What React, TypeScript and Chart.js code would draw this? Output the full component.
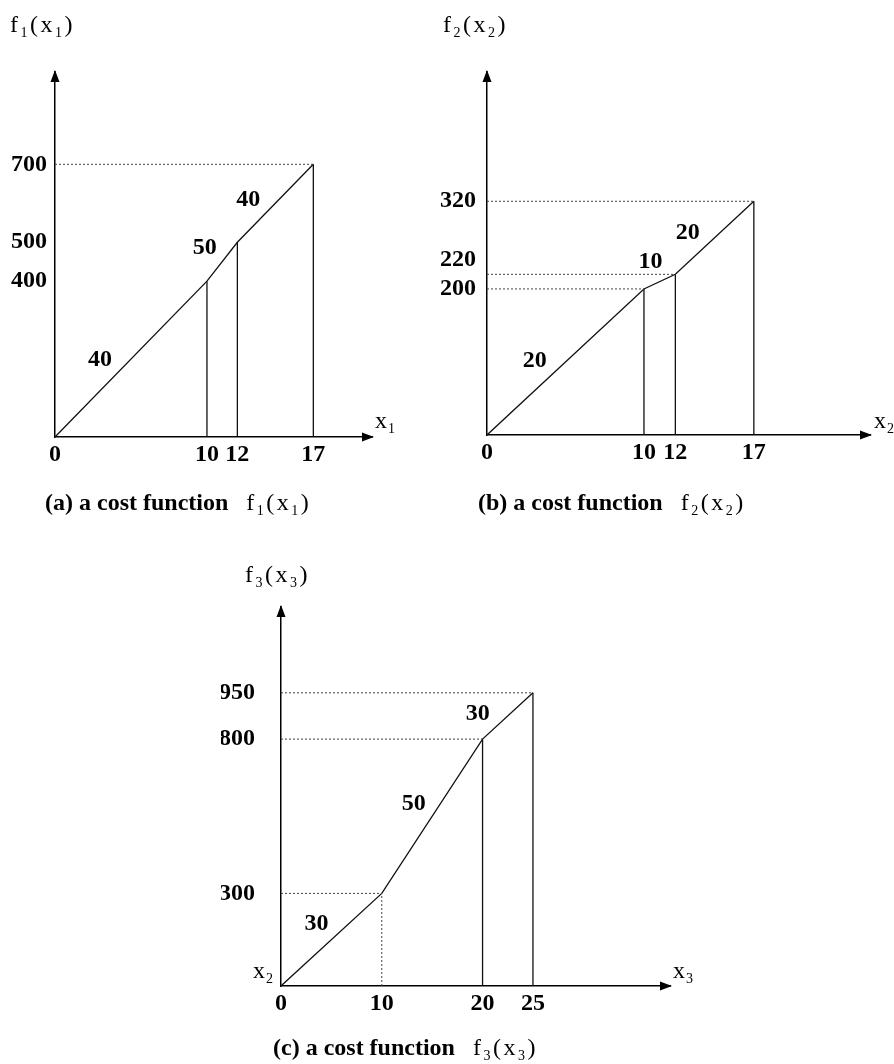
import React, { useEffect, useRef } from "react";
import { Chart, registerables } from "chart.js";

Chart.register(...registerables);

const PAGE_W = 894;
const PAGE_H = 1064;
const SERIF = '"Liberation Serif", "Times New Roman", serif';

// ---- (a) cost function f1(x1) ----
const A_X = [0, 10, 12, 17];
const A_Y = [0, 400, 500, 700];
const A_SLOPES = ["40", "50", "40"];
const A_XTICKS = [0, 10, 12, 17];
const A_YTICKS = [400, 500, 700];
const A_HGUIDES = [700];
const A_VDOTTED = [false, false, false];

// ---- (b) cost function f2(x2) ----
const B_X = [0, 10, 12, 17];
const B_Y = [0, 200, 220, 320];
const B_SLOPES = ["20", "10", "20"];
const B_XTICKS = [0, 10, 12, 17];
const B_YTICKS = [200, 220, 320];
const B_HGUIDES = [200, 220, 320];
const B_VDOTTED = [false, false, false];

// ---- (c) cost function f3(x3) ----
const C_X = [0, 10, 20, 25];
const C_Y = [0, 300, 800, 950];
const C_SLOPES = ["30", "50", "30"];
const C_XTICKS = [0, 10, 20, 25];
const C_YTICKS = [300, 800, 950];
const C_HGUIDES = [300, 800, 950];
const C_VDOTTED = [true, false, false];

type Part = { t: string; sub?: boolean; bold?: boolean };

const fName = (n: string): Part[] => [
  { t: "f" },
  { t: n, sub: true },
  { t: "(" },
  { t: "x" },
  { t: n, sub: true },
  { t: ")" },
];
const xName = (n: string): Part[] => [{ t: "x" }, { t: n, sub: true }];

function drawRich(ctx: CanvasRenderingContext2D, parts: Part[], x: number, baseline: number, size: number, spacing: number) {
  let cx = x;
  ctx.textAlign = "left";
  ctx.textBaseline = "alphabetic";
  for (const p of parts) {
    const s = p.sub ? Math.round(size * 0.58) : size;
    ctx.font = `${p.bold ? "bold " : ""}${s}px ${SERIF}`;
    ctx.fillText(p.t, cx, p.sub ? baseline + size * 0.2 : baseline);
    cx += ctx.measureText(p.t).width + spacing;
  }
  return cx;
}

type PanelDef = {
  xs: number[];
  ys: number[];
  slopes: string[];
  labelT: number[];
  xticks: number[];
  yticks: number[];
  hguides: number[];
  vdotted: boolean[];
  lift: number[];
  area: { left: number; top: number; right: number; bottom: number };
  xMax: number;
  yMax: number;
  yTickPad: number;
  yName: { n: string; x: number; y: number };
  xName: { n: string; x: number; y: number };
  extraNames: { n: string; x: number; y: number }[];
  caption: { letter: string; n: string; x: number; y: number };
};

const PANELS: PanelDef[] = [
  {
    xs: A_X, ys: A_Y, slopes: A_SLOPES, labelT: [0.4, 0.5, 0.35], xticks: A_XTICKS, yticks: A_YTICKS,
    hguides: A_HGUIDES, vdotted: A_VDOTTED, lift: [],
    area: { left: 55, top: 72, right: 372, bottom: 437 },
    xMax: 20.86, yMax: 937, yTickPad: 8,
    yName: { n: "1", x: 10, y: 32 },
    xName: { n: "1", x: 375, y: 428 },
    extraNames: [],
    caption: { letter: "a", n: "1", x: 45, y: 510 },
  },
  {
    xs: B_X, ys: B_Y, slopes: B_SLOPES, labelT: [0.4, 0.5, 0.35], xticks: B_XTICKS, yticks: B_YTICKS,
    hguides: B_HGUIDES, vdotted: B_VDOTTED, lift: [220],
    area: { left: 487, top: 72, right: 870, bottom: 435 },
    xMax: 24.4, yMax: 497, yTickPad: 11,
    yName: { n: "2", x: 443, y: 32 },
    xName: { n: "2", x: 874, y: 428 },
    extraNames: [],
    caption: { letter: "b", n: "2", x: 478, y: 510 },
  },
  {
    xs: C_X, ys: C_Y, slopes: C_SLOPES, labelT: [0.5, 0.5, 0.2], xticks: C_XTICKS, yticks: C_YTICKS,
    hguides: C_HGUIDES, vdotted: C_VDOTTED, lift: [],
    area: { left: 281, top: 607, right: 670, bottom: 986 },
    xMax: 38.6, yMax: 1228, yTickPad: 26,
    yName: { n: "3", x: 245, y: 582 },
    xName: { n: "3", x: 673, y: 978 },
    extraNames: [{ n: "2", x: 253, y: 978 }],
    caption: { letter: "c", n: "3", x: 273, y: 1055 },
  },
];

const YW = 60;
const XH = 40;

function Panel({ def }: { def: PanelDef }) {
  const ref = useRef<HTMLCanvasElement | null>(null);

  useEffect(() => {
    if (!ref.current) return;
    const d = def;
    const datasets: any[] = [];

    // horizontal dotted guides from the y axis to the breakpoint
    d.hguides.forEach((h) => {
      const idx = d.ys.indexOf(h);
      datasets.push({
        data: [{ x: 0, y: h }, { x: d.xs[idx], y: h }],
        borderColor: "#444",
        borderWidth: 1,
        borderDash: [2, 2],
        pointRadius: 0,
      });
    });

    // vertical drop lines from breakpoints to x axis
    for (let i = 1; i < d.xs.length; i++) {
      const dotted = d.vdotted[i - 1];
      datasets.push({
        data: [{ x: d.xs[i], y: 0 }, { x: d.xs[i], y: d.ys[i] }],
        borderColor: dotted ? "#444" : "#111",
        borderWidth: dotted ? 1 : 1.3,
        borderDash: dotted ? [2, 2] : [],
        pointRadius: 0,
      });
    }

    // main cost function
    datasets.push({
      data: d.xs.map((x, i) => ({ x, y: d.ys[i] })),
      borderColor: "#111",
      borderWidth: 1.3,
      pointRadius: 0,
      tension: 0,
    });

    const overlay = {
      id: "overlay",
      afterDraw(chart: any) {
        const ctx: CanvasRenderingContext2D = chart.ctx;
        const a = chart.chartArea;
        const sx = chart.scales.x;
        const sy = chart.scales.y;
        ctx.save();
        ctx.fillStyle = "#000";

        // arrow heads
        ctx.beginPath();
        ctx.moveTo(a.left, a.top - 2);
        ctx.lineTo(a.left - 4.5, a.top + 10);
        ctx.lineTo(a.left + 4.5, a.top + 10);
        ctx.closePath();
        ctx.fill();
        ctx.beginPath();
        ctx.moveTo(a.right + 2, a.bottom);
        ctx.lineTo(a.right - 10, a.bottom - 4.5);
        ctx.lineTo(a.right - 10, a.bottom + 4.5);
        ctx.closePath();
        ctx.fill();

        // slope labels
        ctx.font = `bold 24px ${SERIF}`;
        ctx.textAlign = "center";
        ctx.textBaseline = "middle";
        for (let i = 0; i < d.slopes.length; i++) {
          const x1 = sx.getPixelForValue(d.xs[i]);
          const y1 = sy.getPixelForValue(d.ys[i]);
          const x2 = sx.getPixelForValue(d.xs[i + 1]);
          const y2 = sy.getPixelForValue(d.ys[i + 1]);
          const dx = x2 - x1;
          const dy = y2 - y1;
          const len = Math.hypot(dx, dy) || 1;
          const nx = dy / len;
          const ny = -dx / len;
          const off = 22;
          const t = d.labelT[i];
          ctx.fillText(d.slopes[i], x1 + dx * t + nx * off, y1 + dy * t + ny * off);
        }

        // axis names
        drawRich(ctx, fName(d.yName.n), d.yName.x, d.yName.y, 24, 2.5);
        drawRich(ctx, xName(d.xName.n), d.xName.x, d.xName.y, 24, 1);
        d.extraNames.forEach((e) => drawRich(ctx, xName(e.n), e.x, e.y, 24, 1));

        // caption
        const endX = drawRich(
          ctx,
          [{ t: `(${d.caption.letter}) a cost function`, bold: true }],
          d.caption.x,
          d.caption.y,
          24,
          0
        );
        drawRich(ctx, fName(d.caption.n), endX + 18, d.caption.y, 24, 2.5);

        ctx.restore();
      },
    };

    const tickFont = { family: SERIF, size: 24, weight: "bold" as const };

    const chart = new Chart(ref.current, {
      type: "line",
      data: { datasets },
      options: {
        responsive: false,
        animation: false,
        devicePixelRatio: 1,
        layout: {
          padding: {
            left: d.area.left - YW,
            top: d.area.top,
            right: PAGE_W - d.area.right,
            bottom: PAGE_H - d.area.bottom - XH,
          },
        },
        plugins: {
          legend: { display: false },
          tooltip: { enabled: false },
        },
        scales: {
          x: {
            type: "linear",
            min: 0,
            max: d.xMax,
            grid: { display: false, drawTicks: false },
            border: { display: true, color: "#000", width: 1.5 },
            ticks: {
              font: tickFont,
              color: "#000",
              padding: 3,
              autoSkip: false,
              maxRotation: 0,
              callback: (v: any) => String(v),
            },
            afterBuildTicks: (s: any) => {
              s.ticks = d.xticks.map((v) => ({ value: v }));
            },
            afterFit: (s: any) => {
              s.height = XH;
            },
          },
          y: {
            type: "linear",
            min: 0,
            max: d.yMax,
            grid: { display: false, drawTicks: false },
            border: { display: true, color: "#000", width: 1.5 },
            ticks: {
              font: tickFont,
              color: "#000",
              padding: d.yTickPad,
              autoSkip: false,
              callback: (v: any) => (d.lift.includes(v) ? [String(v), ""] : String(v)),
            },
            afterBuildTicks: (s: any) => {
              s.ticks = d.yticks.map((v) => ({ value: v }));
            },
            afterFit: (s: any) => {
              s.width = YW;
            },
          },
        },
      },
      plugins: [overlay],
    } as any);

    return () => chart.destroy();
  }, [def]);

  return (
    <canvas
      ref={ref}
      width={PAGE_W}
      height={PAGE_H}
      style={{ position: "absolute", left: 0, top: 0, width: PAGE_W, height: PAGE_H, pointerEvents: "none" }}
    />
  );
}

export default function App() {
  return (
    <div
      style={{
        position: "absolute",
        left: 0,
        top: 0,
        width: PAGE_W,
        height: PAGE_H,
        background: "#fff",
        overflow: "hidden",
      }}
    >
      {PANELS.map((p, i) => (
        <Panel key={i} def={p} />
      ))}
    </div>
  );
}
